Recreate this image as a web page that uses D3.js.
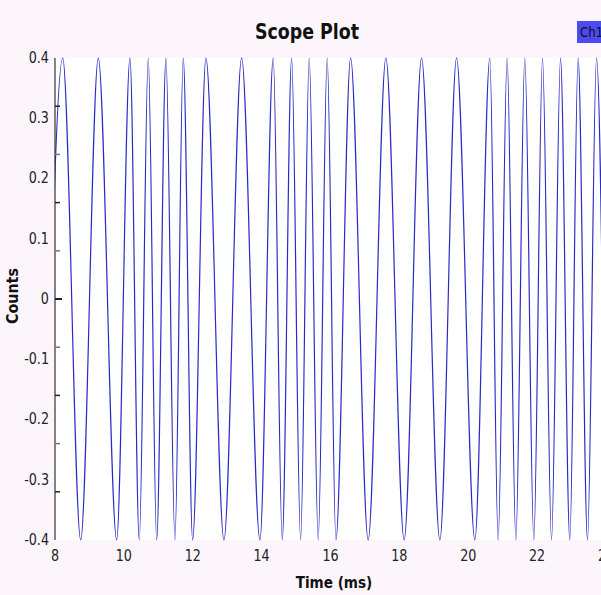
<!DOCTYPE html>
<html>
<head>
<meta charset="utf-8">
<script src="https://cdn.jsdelivr.net/npm/d3@7"></script>
<style>
body { margin: 0; background: #fcf6fc; overflow: hidden; }
</style>
</head>
<body>
<div id="chart"></div>
<script>
// peak / trough times (ms)
var peakTimes = [8.224, 9.257, 10.177, 10.708, 11.222, 11.724, 12.383, 13.419, 14.337, 14.871,
	15.382, 15.904, 16.584, 17.608, 18.644, 19.660, 20.627, 21.129, 21.643, 22.157, 22.679, 23.190, 23.724];
var troughTimes = [7.704, 8.746, 9.791, 10.447, 10.952, 11.483, 11.997, 12.906, 13.951, 14.598, 15.132,
	15.643, 16.157, 17.094, 18.139, 19.176, 20.192, 20.868, 21.382, 21.904, 22.418, 22.949, 23.463, 23.99];
var peakValue = 0.4;
var troughValue = -0.4;

var xTicks = [8, 10, 12, 14, 16, 18, 20, 22, 24];
var yLabels = [0.4, 0.3, 0.2, 0.1, 0, -0.1, -0.2, -0.3, -0.4];
var yMarks = [0.32, 0.24, 0.16, 0.08, 0, -0.08, -0.16, -0.24, -0.32];

function drawScope() {
	var W = 601, H = 595;
	var pL = 55, pR = 606, pT = 58, pB = 540;
	var sx = 0.85;

	var svg = d3.select("#chart").append("svg").attr("width", W).attr("height", H);

	var x = d3.scaleLinear().domain([8, 24]).range([pL, pR]);
	var y = d3.scaleLinear().domain([-0.4, 0.4]).range([pB, pT]);

	// plot background
	svg.append("rect").attr("x", pL).attr("y", pT)
		.attr("width", pR - pL).attr("height", pB - pT).attr("fill", "#ffffff");

	svg.append("clipPath").attr("id", "clip").append("rect")
		.attr("x", pL).attr("y", pT - 1).attr("width", pR - pL).attr("height", pB - pT + 2);

	// build the trace from the extrema
	var points = [];
	peakTimes.forEach(function(t) { points.push({t: t, v: peakValue}); });
	troughTimes.forEach(function(t) { points.push({t: t, v: troughValue}); });
	points.sort(function(a, b) { return a.t - b.t; });

	var line = d3.line()
		.x(function(d) { return x(d.t); })
		.y(function(d) { return y(d.v); })
		.curve(d3.curveMonotoneX);

	svg.append("path")
		.attr("clip-path", "url(#clip)")
		.attr("d", line(points))
		.attr("fill", "none")
		.attr("stroke", "#2b2bc4")
		.attr("stroke-width", 1.2);

	// y axis line
	svg.append("line").attr("x1", pL).attr("x2", pL).attr("y1", pT).attr("y2", pB)
		.attr("stroke", "#333").attr("stroke-width", 1.2);

	// small tick marks
	svg.selectAll(".ymark").data(yMarks).enter().append("line")
		.attr("x1", pL).attr("x2", function(d) { return d === 0 ? pL + 7 : pL + 5; })
		.attr("y1", function(d) { return y(d); }).attr("y2", function(d) { return y(d); })
		.attr("stroke", function(d, i) { return i % 2 === 0 ? "#222" : "#777"; })
		.attr("stroke-width", function(d) { return d === 0 ? 2 : 1.5; });

	var labFont = "DejaVu Sans";

	svg.selectAll(".ylab").data(yLabels).enter().append("text")
		.attr("x", (pL - 6) / sx)
		.attr("y", function(d) { return y(d) + 5; })
		.attr("text-anchor", "end")
		.attr("transform", "scale(" + sx + ",1)")
		.attr("font-family", labFont).attr("font-size", 15)
		.attr("fill", "#222")
		.text(function(d) { return d === 0 ? "0" : d.toFixed(1); });

	svg.selectAll(".xlab").data(xTicks).enter().append("text")
		.attr("x", function(d) { return x(d) / sx; })
		.attr("y", pB + 21)
		.attr("text-anchor", "middle")
		.attr("transform", "scale(" + sx + ",1)")
		.attr("font-family", labFont).attr("font-size", 15)
		.attr("fill", "#222")
		.text(function(d) { return d; });

	// title
	svg.append("text")
		.attr("x", 307 / sx).attr("y", 39)
		.attr("text-anchor", "middle")
		.attr("transform", "scale(" + sx + ",1)")
		.attr("font-family", labFont).attr("font-weight", "bold").attr("font-size", 20.5)
		.attr("fill", "#111")
		.text("Scope Plot");

	// axis titles
	svg.append("text")
		.attr("x", 334 / sx).attr("y", 588)
		.attr("text-anchor", "middle")
		.attr("transform", "scale(" + sx + ",1)")
		.attr("font-family", labFont).attr("font-weight", "bold").attr("font-size", 16)
		.attr("fill", "#111")
		.text("Time (ms)");

	svg.append("text")
		.attr("transform", "translate(18,296) rotate(-90) scale(0.95,1)")
		.attr("text-anchor", "middle")
		.attr("font-family", labFont).attr("font-weight", "bold").attr("font-size", 15)
		.attr("fill", "#111")
		.text("Counts");

	// legend
	svg.append("rect").attr("x", 577).attr("y", 21).attr("width", 30).attr("height", 22)
		.attr("fill", "#4b4bf2");
	svg.append("text").attr("x", 580 / sx).attr("y", 37)
		.attr("transform", "scale(" + sx + ",1)")
		.attr("font-family", labFont).attr("font-size", 14)
		.attr("fill", "#111")
		.text("Ch1");
}

drawScope();
</script>
</body>
</html>
